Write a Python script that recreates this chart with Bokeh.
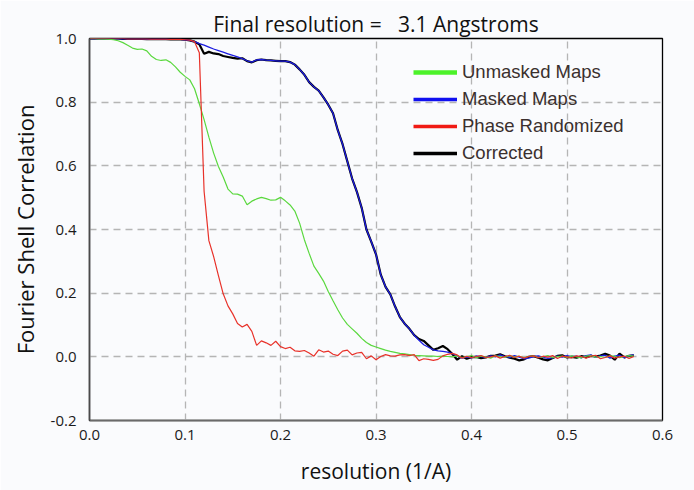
from bokeh.plotting import figure
from bokeh.models import Range1d, Legend, LegendItem, FixedTicker, PrintfTickFormatter
from bokeh.embed import file_html
from bokeh.resources import INLINE

# Fourier shell correlation curves, sampled every 0.005 1/A
resolution = [
    0.000, 0.005, 0.010, 0.015, 0.020, 0.025, 0.030, 0.035, 0.040, 0.045,
    0.050, 0.055, 0.060, 0.065, 0.070, 0.075, 0.080, 0.085, 0.090, 0.095,
    0.100, 0.105, 0.110, 0.115, 0.120, 0.125, 0.130, 0.135, 0.140, 0.145,
    0.150, 0.155, 0.160, 0.165, 0.170, 0.175, 0.180, 0.185, 0.190, 0.195,
    0.200, 0.205, 0.210, 0.215, 0.220, 0.225, 0.230, 0.235, 0.240, 0.245,
    0.250, 0.255, 0.260, 0.265, 0.270, 0.275, 0.280, 0.285, 0.290, 0.295,
    0.300, 0.305, 0.310, 0.315, 0.320, 0.325, 0.330, 0.335, 0.340, 0.345,
    0.350, 0.355, 0.360, 0.365, 0.370, 0.375, 0.380, 0.385, 0.390, 0.395,
    0.400, 0.405, 0.410, 0.415, 0.420, 0.425, 0.430, 0.435, 0.440, 0.445,
    0.450, 0.455, 0.460, 0.465, 0.470, 0.475, 0.480, 0.485, 0.490, 0.495,
    0.500, 0.505, 0.510, 0.515, 0.520, 0.525, 0.530, 0.535, 0.540, 0.545,
    0.550, 0.555, 0.560, 0.565, 0.570,
]

unmasked = [
    1.000, 1.000, 0.999, 0.999, 0.998, 0.996, 0.993, 0.987, 0.979, 0.970,
    0.966, 0.967, 0.961, 0.944, 0.934, 0.931, 0.933, 0.925, 0.911, 0.894,
    0.881, 0.870, 0.842, 0.795, 0.745, 0.690, 0.640, 0.598, 0.565, 0.527,
    0.512, 0.511, 0.505, 0.478, 0.489, 0.496, 0.501, 0.497, 0.492, 0.493,
    0.501, 0.490, 0.477, 0.458, 0.420, 0.368, 0.325, 0.285, 0.262, 0.238,
    0.205, 0.176, 0.148, 0.122, 0.102, 0.088, 0.074, 0.058, 0.045, 0.036,
    0.031, 0.026, 0.021, 0.017, 0.014, 0.011, 0.009, 0.007, 0.005, 0.004,
    0.003, 0.002, 0.002, 0.001, 0.002, 0.001, 0.000, 0.003, -0.002, 0.001,
    0.004, -0.003, 0.002, 0.000, -0.004, 0.003, 0.001, -0.002, 0.004, -0.001,
    0.002, -0.003, 0.001, 0.003, -0.002, 0.000, 0.004, -0.003, 0.001, 0.002,
    -0.002, 0.003, 0.000, -0.003, 0.002, 0.004, -0.001, 0.001, -0.002, 0.003,
    0.002, -0.003, 0.001, 0.004, 0.002,
]

masked = [
    1.000, 1.000, 1.000, 1.000, 1.000, 1.000, 1.000, 0.999, 0.999, 0.999,
    0.999, 0.999, 0.998, 0.998, 0.998, 0.998, 0.998, 0.997, 0.997, 0.997,
    0.996, 0.994, 0.990, 0.984, 0.979, 0.973, 0.967, 0.962, 0.957, 0.952,
    0.947, 0.942, 0.937, 0.930, 0.926, 0.933, 0.934, 0.932, 0.931, 0.930,
    0.929, 0.929, 0.926, 0.918, 0.903, 0.886, 0.863, 0.848, 0.836, 0.815,
    0.792, 0.765, 0.712, 0.668, 0.614, 0.560, 0.518, 0.468, 0.400, 0.362,
    0.322, 0.258, 0.220, 0.196, 0.158, 0.125, 0.104, 0.088, 0.068, 0.052,
    0.038, 0.030, 0.022, 0.019, 0.017, 0.015, 0.010, 0.003, -0.004, 0.000,
    -0.003, 0.002, 0.001, -0.002, 0.003, 0.000, 0.006, 0.001, -0.002, 0.004,
    -0.001, -0.006, -0.004, 0.001, 0.003, -0.002, -0.005, -0.003, 0.002, -0.001,
    0.004, 0.001, 0.002, -0.003, 0.004, 0.006, -0.002, 0.003, 0.005, -0.004,
    0.002, 0.005, -0.003, 0.004, 0.006,
]

phase_randomized = [
    1.000, 1.000, 1.000, 1.000, 1.000, 1.000, 1.000, 1.000, 0.999, 0.999,
    0.999, 0.999, 0.999, 0.998, 0.998, 0.998, 0.998, 0.997, 0.997, 0.997,
    0.996, 0.995, 0.990, 0.955, 0.520, 0.365, 0.315, 0.255, 0.198, 0.160,
    0.135, 0.105, 0.094, 0.102, 0.080, 0.036, 0.050, 0.044, 0.036, 0.049,
    0.032, 0.026, 0.030, 0.019, 0.017, 0.020, 0.012, 0.002, 0.022, 0.015,
    0.018, 0.008, 0.004, 0.018, 0.021, 0.006, 0.012, 0.014, -0.006, 0.003,
    -0.009, 0.001, 0.007, 0.003, 0.002, 0.006, 0.007, 0.004, 0.007, -0.012,
    -0.006, -0.008, -0.011, -0.008, 0.003, 0.008, 0.011, 0.006, -0.004, 0.002,
    -0.003, 0.001, 0.004, -0.002, 0.000, 0.003, -0.004, 0.001, 0.005, -0.002,
    0.002, -0.004, 0.001, 0.003, -0.003, 0.002, -0.001, 0.004, -0.005, 0.002,
    0.000, -0.003, 0.003, 0.001, -0.004, 0.002, 0.005, -0.006, -0.002, 0.003,
    -0.004, 0.000, 0.002, -0.005, 0.001,
]

corrected = [
    1.000, 1.000, 1.000, 1.000, 1.000, 1.000, 1.000, 0.999, 0.999, 0.999,
    0.999, 0.999, 0.998, 0.998, 0.998, 0.998, 0.998, 0.997, 0.997, 0.997,
    0.996, 0.994, 0.990, 0.982, 0.952, 0.958, 0.953, 0.951, 0.945, 0.942,
    0.939, 0.937, 0.938, 0.929, 0.925, 0.932, 0.934, 0.932, 0.931, 0.930,
    0.929, 0.929, 0.926, 0.918, 0.903, 0.886, 0.863, 0.848, 0.836, 0.815,
    0.792, 0.765, 0.712, 0.668, 0.614, 0.560, 0.518, 0.468, 0.400, 0.362,
    0.322, 0.258, 0.220, 0.196, 0.158, 0.125, 0.104, 0.088, 0.068, 0.056,
    0.050, 0.036, 0.022, 0.027, 0.034, 0.024, 0.009, -0.009, 0.002, -0.006,
    -0.001, 0.000, -0.004, -0.002, 0.003, 0.004, 0.008, 0.002, -0.003, -0.006,
    -0.011, -0.008, 0.000, 0.002, -0.003, -0.008, -0.011, -0.004, 0.003, 0.005,
    -0.002, 0.000, -0.003, 0.002, -0.001, 0.003, 0.001, 0.004, 0.010, 0.004,
    -0.009, 0.010, -0.002, 0.003, 0.005,
]

x_ticks = [0.0, 0.1, 0.2, 0.3, 0.4, 0.5, 0.6]
y_ticks = [-0.2, 0.0, 0.2, 0.4, 0.6, 0.8, 1.0]

series_labels = ["Unmasked Maps", "Masked Maps", "Phase Randomized", "Corrected"]
series_values = [unmasked, masked, phase_randomized, corrected]
series_colors = ["#5ad83e", "#1c1ce0", "#e8322a", "#000000"]
legend_colors = ["#4cf22a", "#1010f0", "#f01a14", "#000000"]

BG = "#fafbfd"
FONT = "Open Sans"

p = figure(
    width=694, height=490,
    output_backend="svg", toolbar_location=None,
    x_range=Range1d(0, 0.6), y_range=Range1d(-0.2, 1.0),
    min_border_left=89, min_border_right=32,
    min_border_top=38, min_border_bottom=70,
    background_fill_color=BG, border_fill_color=BG,
)

p.title.text = "Final resolution =\u00a0\u00a0 3.1 Angstroms"
p.title.align = "center"
p.title.text_font = FONT
p.title.text_font_size = "21px"
p.title.text_font_style = "normal"
p.title.text_color = "#111111"
p.title.standoff = 2

p.outline_line_color = "#000000"
p.outline_line_width = 1.3

for ax in (p.xaxis[0], p.yaxis[0]):
    ax.major_tick_line_color = None
    ax.minor_tick_line_color = None
    ax.major_label_text_font = FONT
    ax.major_label_text_font_size = "15px"
    ax.major_label_text_color = "#1a1a1a"
    ax.axis_label_text_font = FONT
    ax.axis_label_text_font_style = "normal"
    ax.axis_label_text_color = "#111111"
    ax.axis_line_width = 1.6
    ax.formatter = PrintfTickFormatter(format="%.1f")

p.xaxis.ticker = FixedTicker(ticks=x_ticks)
p.yaxis.ticker = FixedTicker(ticks=y_ticks)
p.xaxis.axis_line_color = "#6a6a6a"
p.yaxis.axis_line_color = "#4a4a4a"
p.xaxis.major_label_standoff = 3
p.yaxis.major_label_standoff = 7
p.xaxis.axis_label = "resolution (1/A)"
p.yaxis.axis_label = "Fourier Shell Correlation"
p.xaxis.axis_label_text_font_size = "21px"
p.yaxis.axis_label_text_font_size = "22px"
p.xaxis.axis_label_standoff = 14
p.yaxis.axis_label_standoff = 8

for g in (p.xgrid, p.ygrid):
    g.grid_line_color = "#b5b5b5"
    g.grid_line_dash = "7 5"
    g.grid_line_width = 1.3

# data curves
p.line(resolution, corrected, line_color=series_colors[3], line_width=2.2)
p.line(resolution, masked, line_color=series_colors[1], line_width=1.3)
p.line(resolution, unmasked, line_color=series_colors[0], line_width=1.2)
p.line(resolution, phase_randomized, line_color=series_colors[2], line_width=1.2)

# heavier swatches for the key (single-point lines draw nothing in the plot)
key_widths = [4.5, 3.5, 3.5, 3.5]
items = []
for lab, vals, col, w in zip(series_labels, series_values, legend_colors, key_widths):
    r = p.line(resolution[:1], vals[:1], line_color=col, line_width=w)
    items.append(LegendItem(label=lab, renderers=[r]))

legend = Legend(
    items=items, location=(324, 256),
    padding=0, margin=0, spacing=5,
    glyph_width=44, glyph_height=20, label_height=20, label_standoff=5,
    label_text_font="Liberation Sans", label_text_font_size="18.5px",
    label_text_color="#3b302e",
    background_fill_alpha=0, border_line_alpha=0,
)
p.add_layout(legend)

open("out.html", "w").write(file_html(p, INLINE))
